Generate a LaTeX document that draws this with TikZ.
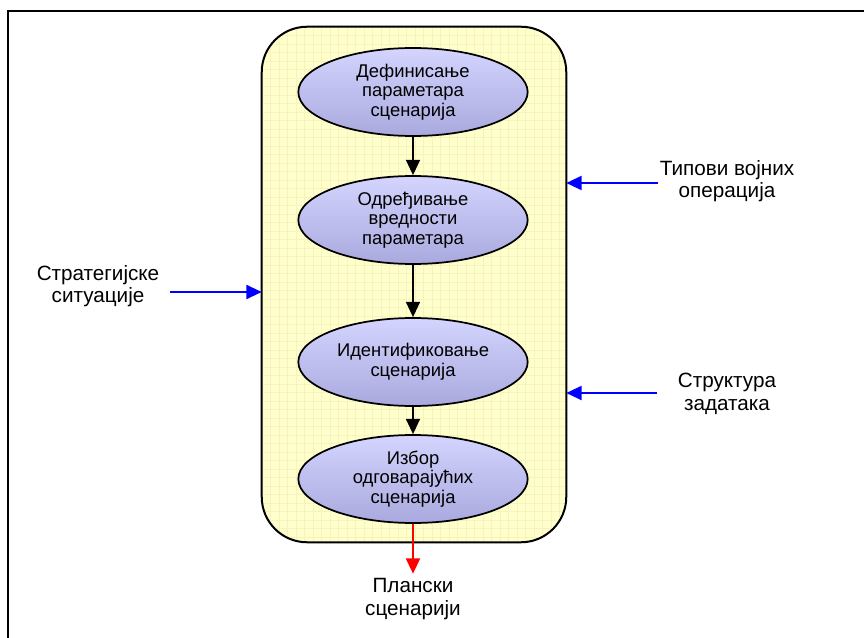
\documentclass[tikz,border=0pt]{standalone}
\usepackage{fontspec}
\setmainfont{Liberation Sans}
\usetikzlibrary{shapes.geometric,arrows.meta,calc}
\definecolor{boxfill}{HTML}{FFFFCC}
\definecolor{gridc}{HTML}{F6F3BE}
\definecolor{elltop}{HTML}{D4D4FF}
\definecolor{ellbot}{HTML}{A9A9DE}
\definecolor{bluearr}{HTML}{0000FF}
\definecolor{redarr}{HTML}{FF0000}
\tikzset{
  stage/.style={ellipse, draw=black, line width=1.3pt, top color=elltop, bottom color=ellbot,
    minimum width=172pt, minimum height=66pt, inner sep=0pt, align=center,
    font=\fontsize{13.8}{14.8}\selectfont},
  sidetext/.style={align=center, font=\fontsize{15.5}{17}\selectfont},
  flowarr/.style={line width=1.3pt, -{Triangle[length=11.5pt,width=10.5pt]}},
  inarr/.style={line width=1.5pt, bluearr, -{Triangle[length=11.5pt,width=10.5pt]}},
  outarr/.style={line width=1.5pt, redarr, -{Triangle[length=11.5pt,width=10.5pt]}}
}
\begin{document}
\begin{tikzpicture}[x=0.75pt,y=-0.75pt]
\useasboundingbox (0,0) rectangle (864,638);
% outer frame (only top and left visible)
\draw[line width=1.6pt] (8,638) -- (8,11) -- (864,11);
% container
\node[draw=none, minimum width=228pt, minimum height=386.25pt, inner sep=0pt] (box) at (414,284.5) {};
\begin{scope}
  \clip[rounded corners=34pt] (box.south west) rectangle (box.north east);
  \fill[boxfill] (box.south west) rectangle (box.north east);
  \foreach \i in {0,...,36} { \draw[gridc, line width=0.5pt] ($(262,27)+(\i*8.5,0)$) -- ++(0,520); }
  \foreach \j in {0,...,61} { \draw[gridc, line width=0.5pt] ($(262,27)+(0,\j*8.5)$) -- ++(310,0); }
\end{scope}
\draw[line width=1.5pt, rounded corners=34pt] (box.south west) rectangle (box.north east);
% stages
\node[stage] (s1) at (413,92) {Дефинисање\\параметара\\сценарија};
\node[stage] (s2) at (413,220) {Одређивање\\вредности\\параметара};
\node[stage] (s3) at (413,362) {Идентификовање\\сценарија};
\node[stage] (s4) at (413,479) {Избор\\одговарајућих\\сценарија};
\draw[flowarr] (s1) -- (s2);
\draw[flowarr] (s2) -- (s3);
\draw[flowarr] (s3) -- (s4);
% output
\node[sidetext] (out) at (413,599) {Плански\\сценарији};
\draw[outarr] (s4.south) -- (s4.south |- out.north);
% inputs
\node[sidetext] (t1) at (98,286) {Стратегијске\\ситуације};
\coordinate (a1) at (170,292);
\draw[inarr] (a1) -- (a1 -| box.west);
\node[sidetext] (t2) at (727,181) {Типови војних\\операција};
\coordinate (a2) at (658,183);
\draw[inarr] (a2) -- (a2 -| box.east);
\node[sidetext] (t3) at (727,394) {Структура\\задатака};
\coordinate (a3) at (657,393);
\draw[inarr] (a3) -- (a3 -| box.east);
\end{tikzpicture}
\end{document}
